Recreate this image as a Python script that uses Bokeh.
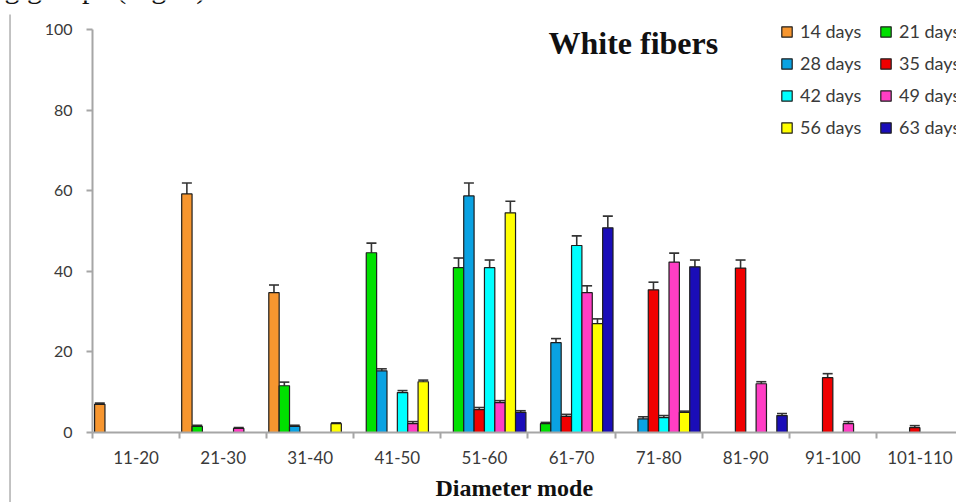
from bokeh.plotting import figure
from bokeh.models import (ColumnDataSource, FixedTicker, Whisker, TeeHead, Legend,
                          LegendItem, Label, BoxAnnotation, Range1d)
from bokeh.embed import file_html
from bokeh.resources import INLINE

categories = ["11-20", "21-30", "31-40", "41-50", "51-60", "61-70",
              "71-80", "81-90", "91-100", "101-110"]
series = ["14 days", "21 days", "28 days", "35 days",
          "42 days", "49 days", "56 days", "63 days"]
colors = ["#F7962F", "#00E000", "#0AA2E2", "#F00000",
          "#00FFFF", "#FF3EC4", "#FFFF00", "#1A0DB8"]

d14 = [7.0, 59.2, 34.7, 0, 0, 0, 0, 0, 0, 0]
d21 = [0, 1.5, 11.6, 44.6, 40.9, 2.2, 0, 0, 0, 0]
d28 = [0, 0, 1.5, 15.3, 58.7, 22.3, 3.4, 0, 0, 0]
d35 = [0, 0, 0, 0, 5.7, 4.0, 35.4, 40.8, 13.6, 1.2]
d42 = [0, 0, 0, 9.9, 40.9, 46.4, 3.7, 0, 0, 0]
d49 = [0, 1.0, 0, 2.2, 7.4, 34.7, 42.3, 12.1, 2.2, 0]
d56 = [0, 0, 2.2, 12.6, 54.5, 27.0, 5.0, 0, 0, 0]
d63 = [0, 0, 0, 0, 5.0, 50.8, 41.1, 4.2, 0, 0]

e14 = [0.3, 2.7, 1.9, 0, 0, 0, 0, 0, 0, 0]
e21 = [0, 0.3, 0.9, 2.4, 2.4, 0.3, 0, 0, 0, 0]
e28 = [0, 0, 0.3, 0.5, 3.2, 1.0, 0.5, 0, 0, 0]
e35 = [0, 0, 0, 0, 0.5, 0.5, 1.9, 2.0, 1.0, 0.5]
e42 = [0, 0, 0, 0.5, 1.9, 2.4, 0.5, 0, 0, 0]
e49 = [0, 0.2, 0, 0.5, 0.5, 1.7, 2.2, 0.5, 0.5, 0]
e56 = [0, 0, 0.2, 0.4, 2.9, 1.2, 0.3, 0, 0, 0]
e63 = [0, 0, 0, 0, 0.4, 2.9, 1.7, 0.5, 0, 0]

y_ticks = [0, 20, 40, 60, 80, 100]

values = [d14, d21, d28, d35, d42, d49, d56, d63]
errors = [e14, e21, e28, e35, e42, e49, e56, e63]

FONT = "Lato"
TEXT = "#3a3a3a"
AXIS = "#a6a6a6"

# the plotting frame fills the whole canvas; axes are pinned at 0
p = figure(width=956, height=502, output_backend="svg", toolbar_location=None,
           x_range=Range1d(-1.0563, 9.9197), y_range=Range1d(-17.37, 107.2),
           min_border=0)
p.title.visible = False
p.outline_line_color = None
p.xgrid.grid_line_color = None
p.ygrid.grid_line_color = None
p.background_fill_color = "white"
p.border_fill_color = "white"

bar_w = 0.119
group_w = bar_w * len(series)
renderers = []
for i, (name, col, vals, errs) in enumerate(zip(series, colors, values, errors)):
    xs, tops, ups = [], [], []
    for j, (v, e) in enumerate(zip(vals, errs)):
        if v > 0:
            xs.append(j + 0.5 - group_w / 2 + (i + 0.5) * bar_w)
            tops.append(v)
            ups.append(v + e)
    src = ColumnDataSource(dict(x=xs, top=tops, upper=ups))
    r = p.vbar(x="x", top="top", bottom=0, width=bar_w, source=src,
               fill_color=col, line_color="#1e1e1e", line_width=1.2)
    renderers.append(r)
    w = Whisker(source=src, base="x", lower="top", upper="upper",
                dimension="height", lower_head=None,
                upper_head=TeeHead(size=10, line_color="#333333", line_width=1.6),
                line_color="#333333", line_width=1.6)
    p.add_layout(w)

# axes
xa = p.xaxis[0]
xa.fixed_location = 0
xa.bounds = (0, len(categories))
xa.ticker = FixedTicker(ticks=[j + 0.5 for j in range(len(categories))],
                        minor_ticks=list(range(len(categories) + 1)))
xa.major_label_overrides = {j + 0.5: c for j, c in enumerate(categories)}
xa.major_tick_line_color = None
xa.major_tick_out = 0
xa.major_tick_in = 0
xa.minor_tick_out = 6
xa.minor_tick_in = 0
xa.minor_tick_line_color = AXIS
xa.minor_tick_line_width = 2
xa.axis_line_color = AXIS
xa.axis_line_width = 2
xa.major_label_standoff = 12
xa.major_label_text_font = FONT
xa.major_label_text_font_size = "17px"
xa.major_label_text_color = TEXT

ya = p.yaxis[0]
ya.fixed_location = 0
ya.bounds = (0, 100)
ya.ticker = FixedTicker(ticks=y_ticks)
ya.minor_tick_line_color = None
ya.major_tick_out = 6
ya.major_tick_in = 0
ya.major_tick_line_color = AXIS
ya.major_tick_line_width = 2
ya.axis_line_color = AXIS
ya.axis_line_width = 2
ya.major_label_standoff = 14
ya.major_label_text_font = FONT
ya.major_label_text_font_size = "16px"
ya.major_label_text_color = TEXT

# titles
p.add_layout(Label(x=5.235, y=96.7, text="White fibers", text_font="Liberation Serif",
                   text_font_style="bold", text_font_size="32px", text_color="#111111",
                   text_baseline="alphabetic", text_align="left"))
p.add_layout(Label(x=4.845, y=-13.8, text="Diameter mode", text_font="Liberation Serif",
                   text_font_style="bold", text_font_size="24px", text_color="#111111",
                   text_baseline="middle", text_align="center"))

# surrounding page: margin line and the clipped line of body text above
p.add_layout(BoxAnnotation(left=-0.953, right=-0.941, top=103.7,
                           fill_color="#8c8c8c", fill_alpha=1, line_color=None))
p.add_layout(Label(x=4, y=515, x_units="screen", y_units="screen",
                   text="g  groups (Fig. 3).", text_font="Liberation Serif",
                   text_font_size="30px", text_color="#111111",
                   text_baseline="alphabetic", text_align="left"))

order = [0, 2, 4, 6, 1, 3, 5, 7]
legend = Legend(items=[LegendItem(label=series[k], renderers=[renderers[k]]) for k in order],
                location=(780, 364), orientation="vertical", nrows=4,
                label_text_font=FONT, label_text_font_size="18px", label_text_color=TEXT,
                glyph_width=13, glyph_height=13, label_height=16, label_width=69,
                label_standoff=7, spacing=10, padding=0, margin=0,
                border_line_color=None, background_fill_alpha=0)
p.add_layout(legend)

open("out.html", "w").write(file_html(p, INLINE))
